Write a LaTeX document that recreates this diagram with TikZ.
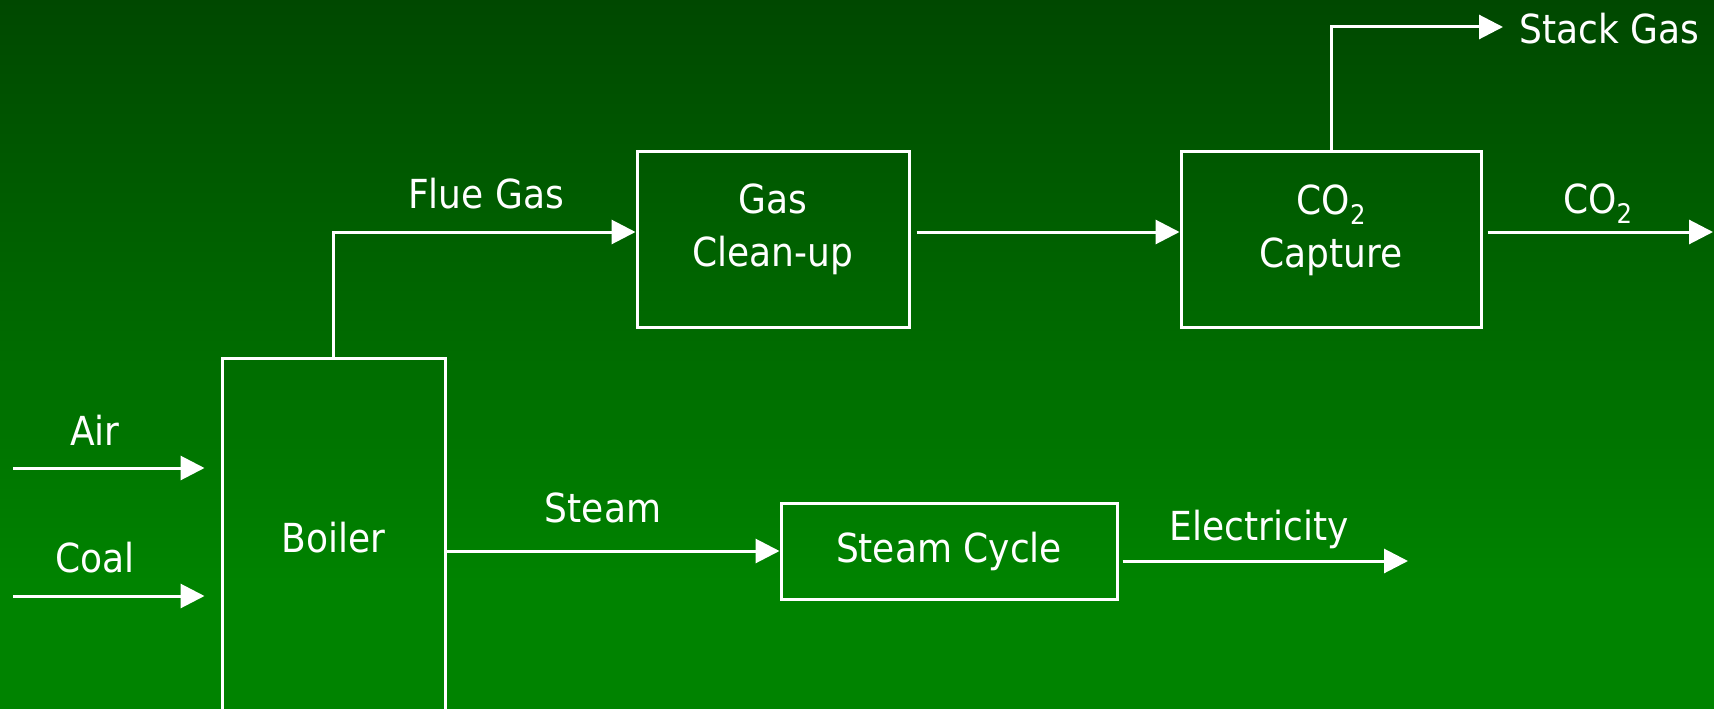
\documentclass[tikz,border=0pt]{standalone}
\usepackage{fontspec}
\setmainfont{DejaVu Sans Condensed}
\usetikzlibrary{arrows.meta}
\definecolor{bgtop}{RGB}{0,72,0}
\definecolor{bgbot}{RGB}{0,131,0}
\newcommand{\lowtwo}{\raisebox{-10pt}{\fontsize{27}{27}\selectfont 2}}
\tikzset{
  unit/.style={draw=white,line width=3pt,text=white,inner sep=0pt},
  flow/.style={draw=white,line width=3pt,-{Triangle[length=24pt,width=24pt]}},
  tag/.style={text=white,inner sep=0pt}
}

\begin{document}
\begin{tikzpicture}[x=1pt,y=-1pt,font=\fontsize{40}{53}\selectfont]
  \useasboundingbox (0,0) rectangle (1714,709);
  \clip (0,0) rectangle (1714,709);
  \fill[top color=bgtop,bottom color=bgbot] (0,0) rectangle (1714,582);
  \fill[bgbot] (0,580) rectangle (1714,709);
%   %process units
  \node[unit,minimum width=223pt,minimum height=359pt] (boiler) at (333.5,538) {Boiler};
  \node[unit,minimum width=272pt,minimum height=176pt] (cleanup) at (773,239) {};
  \node[tag,align=center] (cleanuptxt) at (773,229) {Gas\\Clean-up};
  \node[unit,minimum width=300pt,minimum height=176pt] (capture) at (1331,239) {};
  \node[tag,align=center] (capturetxt) at (1331,230) {CO\lowtwo\\Capture};
  \node[unit,minimum width=336pt,minimum height=96pt] (cycle) at (949,551) {Steam Cycle};
%   %feeds
  \foreach \lab/\yy in {Air/468,Coal/596}{% both go into the boiler
    \coordinate (in\lab) at (13,\yy);
    \node[tag] (tag\lab) at (95,\yy-38) {\lab};
    \draw[flow,shorten >=16pt] (in\lab) -- (in\lab -| boiler.west);
  }
%   %gas side
  \draw[flow] (boiler.north) |- ([yshift=7pt]cleanup.west);
  \node[tag] (flue) at (486,194) {Flue Gas};
  \draw[flow,shorten <=6pt] ([yshift=7pt]cleanup.east) -- ([yshift=7pt]capture.west);
  \coordinate (stackend) at (1503,27);
  \draw[flow] (capture.north) |- (stackend);
  \node[tag,anchor=west] (stack) at (1519,29) {Stack Gas};
  \coordinate (co2end) at (1713,232);
  \draw[flow,shorten <=5pt] (capture.east |- co2end) -- (co2end);
  \node[tag,anchor=base west] (co2) at (1563,213) {CO\lowtwo};
%   %steam side
  \draw[flow] (boiler.east |- cycle.west) -- (cycle.west);
  \node[tag] (steam) at (603,508) {Steam};
  \coordinate (elecend) at (1408,561);
  \draw[flow,shorten <=4pt] (cycle.east |- elecend) -- (elecend);
  \node[tag] (elec) at (1259,529) {Electricity};
\end{tikzpicture}
\end{document}
